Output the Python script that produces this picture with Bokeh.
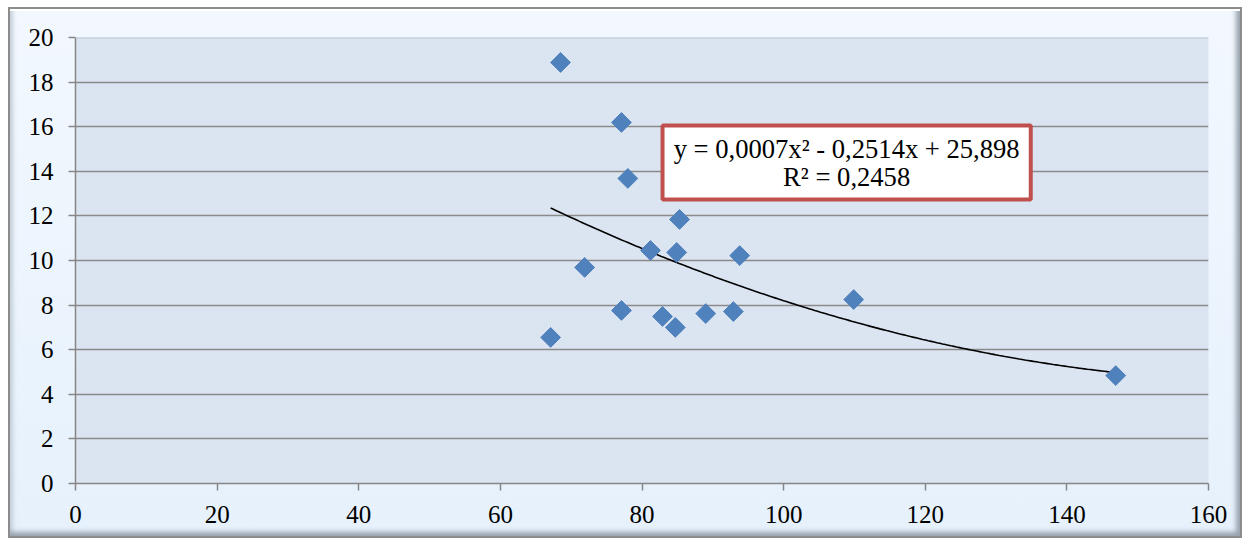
import numpy as np
from bokeh.plotting import figure
from bokeh.models import Range1d, FixedTicker, Span, BoxAnnotation, Label, ColumnDataSource
from bokeh.embed import file_html
from bokeh.resources import INLINE

# --- data ---
x_vals = [68.5, 77.1, 78.0, 85.3, 81.2, 84.9, 93.8, 71.9, 109.9, 77.1, 82.9, 89.0, 92.9, 84.7, 67.1, 146.9]
y_vals = [18.88, 16.19, 13.68, 11.84, 10.45, 10.36, 10.22, 9.69, 8.25, 7.76, 7.49, 7.62, 7.71, 7.00, 6.55, 4.84]
x_ticks = [0, 20, 40, 60, 80, 100, 120, 140, 160]
y_ticks = [0, 2, 4, 6, 8, 10, 12, 14, 16, 18, 20]
eq_line1 = "y = 0,0007x² - 0,2514x + 25,898"
eq_line2 = "R² = 0,2458"

FONT = "Liberation Serif"

p = figure(width=1234, height=531, output_backend="svg", toolbar_location=None,
           x_range=Range1d(0, 160), y_range=Range1d(0, 20),
           min_border_left=67, min_border_right=34, min_border_top=30, min_border_bottom=55)
p.frame_width = 1133
p.frame_height = 446

p.background_fill_color = "#dbe5f1"
p.border_fill_alpha = 0
p.outline_line_color = None
p.styles = {
    "margin": "7px 0 0 8px",
    "background": "linear-gradient(#f2f8fe, #e6f1fc)",
    "box-shadow": "inset 0 0 0 2px #8c8c8c, inset 0 4px 0 0 #ffffff, inset -8px -8px 5px -2px #98a2ae, inset 6px 0 4px -1px #c4ced8",
}

# axes
p.xaxis.ticker = FixedTicker(ticks=x_ticks)
p.yaxis.ticker = FixedTicker(ticks=y_ticks)
for ax in (p.xaxis[0], p.yaxis[0]):
    ax.axis_line_color = "#868686"
    ax.axis_line_width = 1.5
    ax.major_tick_line_color = "#868686"
    ax.major_tick_line_width = 1.5
    ax.major_tick_in = 0
    ax.major_tick_out = 7
    ax.minor_tick_line_color = None
    ax.major_label_text_font = FONT
    ax.major_label_text_font_size = "25px"
    ax.major_label_text_color = "#000000"
p.yaxis.major_label_standoff = 15
p.xaxis.major_label_standoff = 15

# grid
p.xgrid.grid_line_color = None
p.ygrid.ticker = FixedTicker(ticks=y_ticks[1:-1])
p.ygrid.grid_line_color = "#8a8a8a"
p.ygrid.grid_line_width = 1.5
p.add_layout(Span(location=20, dimension="width", line_color="#bcc6d2", line_width=2))

# trendline (2nd-order polynomial fit of the data)
coef = np.polyfit(x_vals, y_vals, 2)
tx = np.linspace(min(x_vals), max(x_vals), 200)
ty = np.polyval(coef, tx)
p.line(tx, ty, line_color="#000000", line_width=1.6)

# points
src = ColumnDataSource(dict(x=x_vals, y=y_vals))
p.scatter("x", "y", source=src, marker="square", size=14, angle=np.pi / 4,
          fill_color="#4f81bd", line_color="#4f81bd", line_width=1)

# equation box
p.add_layout(BoxAnnotation(left=82.9, right=134.9, top=16.05, bottom=12.74,
                           fill_color="#ffffff", fill_alpha=1,
                           line_color="#c0504d", line_alpha=1, line_width=4, level="annotation"))
p.add_layout(Label(x=108.9, y=15.0, text=eq_line1, text_align="center", text_baseline="middle",
                   text_font=FONT, text_font_size="26.6px", text_color="#000000"))
p.add_layout(Label(x=108.9, y=13.75, text=eq_line2, text_align="center", text_baseline="middle",
                   text_font=FONT, text_font_size="26.6px", text_color="#000000"))

open("out.html", "w").write(file_html(p, INLINE))
